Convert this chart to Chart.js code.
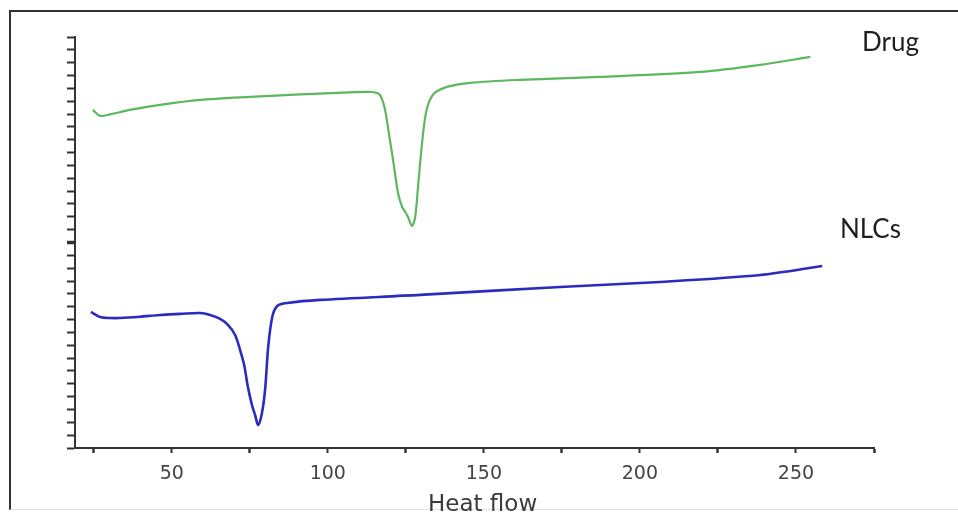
<!DOCTYPE html>
<html>
<head>
<meta charset="utf-8">
<script src="https://cdn.jsdelivr.net/npm/chart.js@4"></script>
<style>
  body { margin: 0; background: #fff; }
  #wrap { position: relative; width: 958px; height: 516px; overflow: hidden; }
  #frame { position: absolute; left: 9px; top: 10px; width: 960px; height: 497px;
           border-left: 2px solid #333; border-top: 2px solid #333; border-bottom: 1px solid #e2e2e2; }
  canvas { position: absolute; left: 0; top: 0; }
</style>
</head>
<body>
<div id="wrap"><div id="frame"></div><canvas id="dscChart" width="958" height="516"></canvas></div>
<script>
// DSC thermograms, temperature (x) vs heat flow (arbitrary units, y)
const drugTemp = [24.7, 27.0, 30.2, 36.6, 46.2, 59.1, 75.1, 91.1, 107.1, 113.5, 116.5, 118.2, 119.5, 120.9, 122.5,
                  123.8, 124.8, 125.7, 127.0, 128.0, 128.9, 130.2, 131.3, 132.6, 134.5, 138.2, 145.6, 161.6,
                  187.3, 219.3, 238.6, 254.6];
const drugFlow = [26.32, 25.86, 25.97, 26.32, 26.71, 27.10, 27.34, 27.53, 27.69, 27.72, 27.55, 26.50, 24.60, 22.43, 19.86,
                  18.77, 18.38, 17.99, 17.29, 17.99, 20.33, 23.75, 25.90, 27.05, 27.70, 28.12, 28.43, 28.66,
                  28.89, 29.28, 29.83, 30.45];

const nlcTemp = [24.1, 27.0, 30.2, 33.4, 39.8, 46.2, 52.7, 59.1, 62.3, 65.5, 68.0, 70.3, 71.9, 73.2, 74.4,
                 75.7, 76.7, 77.7, 78.9, 79.9, 80.9, 82.2, 83.8, 87.0, 97.5, 129.6, 174.4, 206.5, 238.6, 258.4];
const nlcFlow = [10.59, 10.20, 10.12, 10.12, 10.22, 10.36, 10.44, 10.51, 10.36, 10.05, 9.58, 8.80, 7.63, 6.46, 4.75,
                 3.35, 2.57, 1.79, 2.73, 4.52, 7.87, 10.20, 11.06, 11.29, 11.53, 11.92, 12.54, 12.93, 13.47, 14.17];

const xTicks = [25, 50, 75, 100, 125, 150, 175, 200, 225, 250, 275];
const xLabels = [50, 100, 150, 200, 250];
const seriesNames = ["Drug", "NLCs"];

const toPoints = (xs, ys) => xs.map((x, i) => ({ x: x, y: ys[i] }));

// curve names and axis title, drawn as text next to the plot
const textPlugin = {
  id: "curveText",
  afterDraw(chart) {
    const c = chart.ctx;
    c.save();
    c.fillStyle = "#1e1e1e";
    c.font = "26px Lato";
    c.textBaseline = "alphabetic";
    c.fillText(chart.data.datasets[0].label, 862, 51);
    c.fillText(chart.data.datasets[1].label, 840, 238);
    c.fillStyle = "#3a3a3a";
    c.font = "23px 'DejaVu Sans'";
    c.fillText("Heat flow", 428, 511);
    c.restore();
  }
};

const ctx = document.getElementById("dscChart").getContext("2d");
new Chart(ctx, {
  type: "line",
  data: {
    datasets: [
      {
        label: seriesNames[0],
        data: toPoints(drugTemp, drugFlow),
        borderColor: "#5cb85c",
        borderWidth: 2.2,
        pointRadius: 0,
        tension: 0.3,
        fill: false,
      },
      {
        label: seriesNames[1],
        data: toPoints(nlcTemp, nlcFlow),
        borderColor: "#2b2bbf",
        borderWidth: 2.6,
        pointRadius: 0,
        tension: 0.3,
        fill: false,
      },
    ],
  },
  options: {
    responsive: false,
    animation: false,
    layout: { padding: { left: 65, top: 37, right: 84, bottom: 0 } },
    plugins: { legend: { display: false }, tooltip: { enabled: false } },
    scales: {
      x: {
        type: "linear",
        min: 19,
        max: 275,
        afterFit: (s) => { s.height = 68; },
        afterBuildTicks: (s) => { s.ticks = xTicks.map((v) => ({ value: v })); },
        border: { display: true, color: "#333", width: 2 },
        grid: { drawOnChartArea: false, drawTicks: true, tickLength: 5, color: "#333",
                tickWidth: (c) => (c.tick && xLabels.includes(c.tick.value) ? 2 : 2.5) },
        ticks: {
          autoSkip: false,
          maxRotation: 0,
          padding: 10,
          color: "#444",
          font: { family: "DejaVu Sans", size: 19 },
          callback: (v) => (xLabels.includes(v) ? v : ""),
        },
      },
      y: {
        type: "linear",
        min: 0,
        max: 32,
        afterFit: (s) => { s.width = 10; },
        border: { display: true, color: "#333", width: 2 },
        grid: { drawOnChartArea: false, drawTicks: true, tickLength: 8, color: "#333",
                tickWidth: (c) => (c.tick && c.tick.value === 16 ? 3.5 : 2) },
        ticks: { display: false, stepSize: 1 },
      },
    },
  },
  plugins: [textPlugin],
});
</script>
</body>
</html>
